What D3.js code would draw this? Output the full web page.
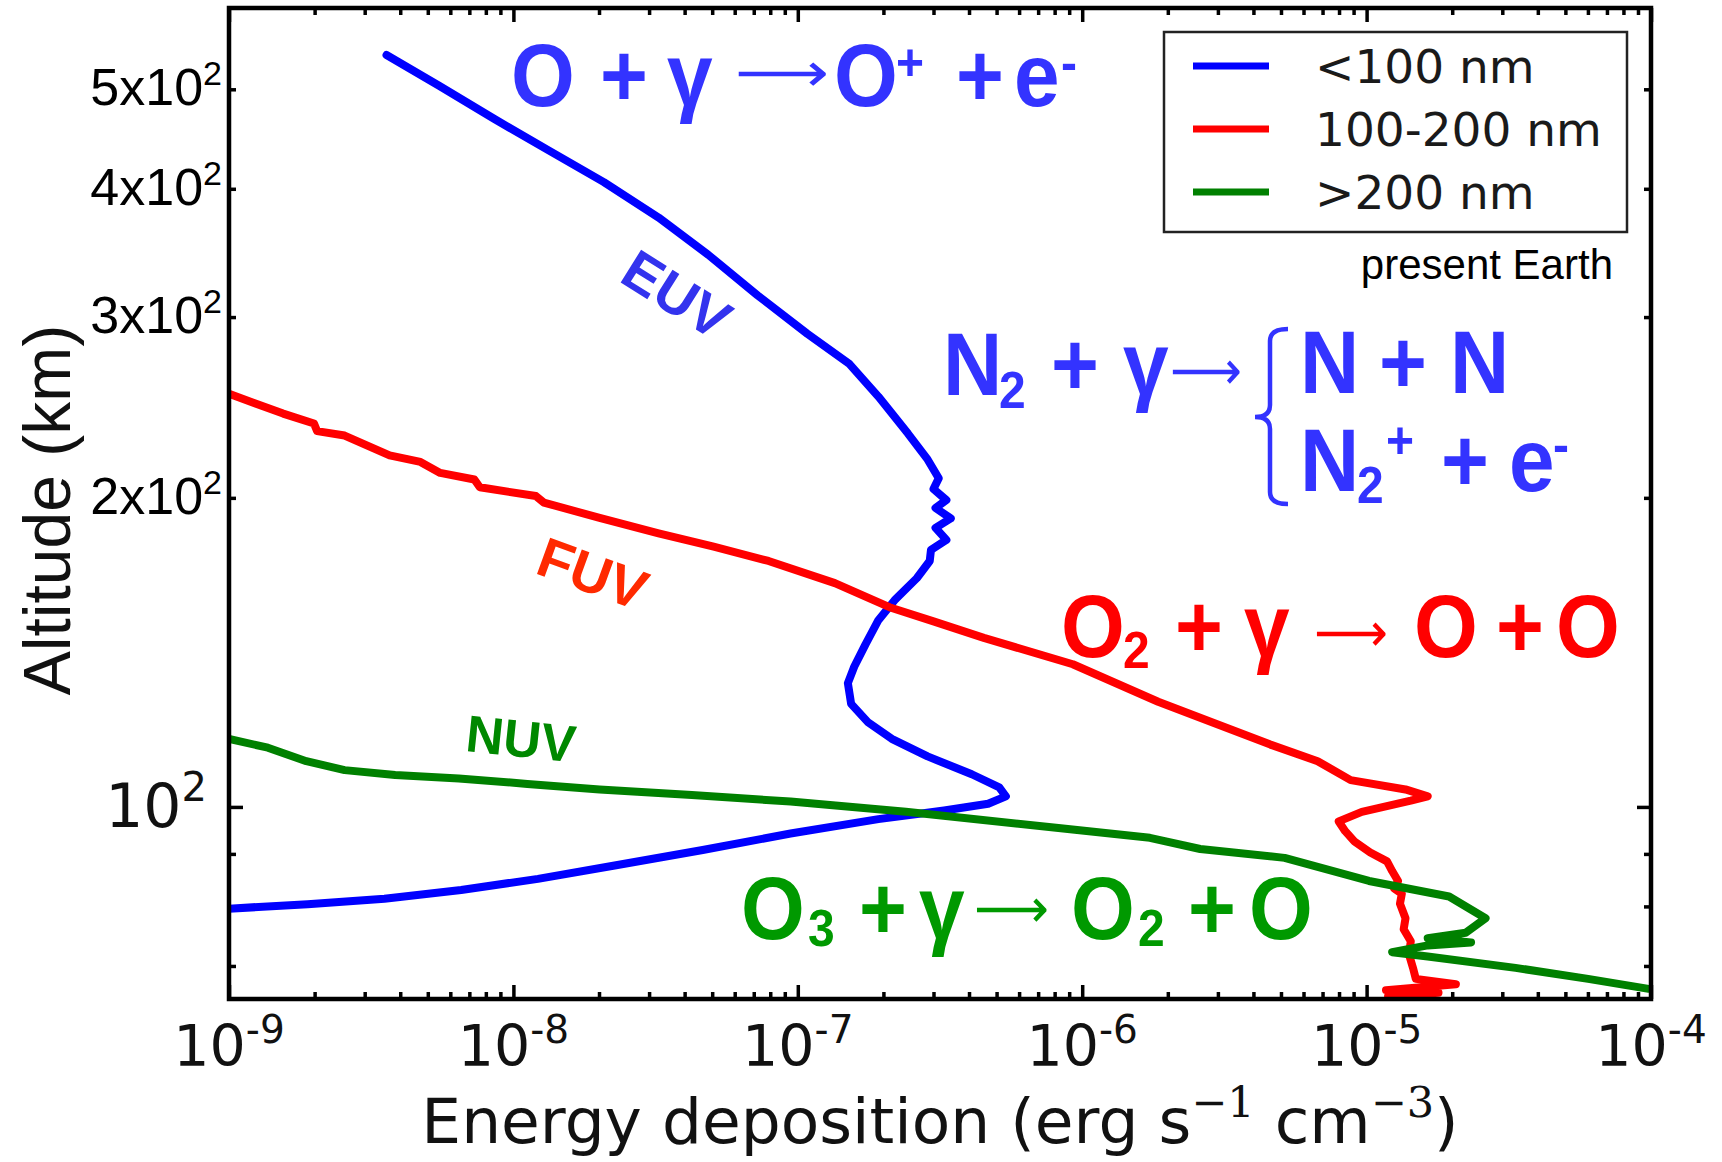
<!DOCTYPE html>
<html>
<head>
<meta charset="utf-8">
<script src="https://cdn.jsdelivr.net/npm/d3@7"></script>
<style>
  html, body { margin: 0; padding: 0; background: #fff; }
  svg { display: block; }
</style>
</head>
<body>
<svg id="chart"></svg>
<script>
// energy deposition (erg s-1 cm-3) against altitude (km), present Earth

// <100 nm (EUV)
const euvEnergy = [3.58e-9, 5.48e-9, 8.55e-9, 1.33e-8, 2.08e-8, 3.24e-8, 4.84e-8, 7.22e-8, 1.08e-7, 1.52e-7,
  1.92e-7, 2.44e-7, 2.86e-7, 3.13e-7, 3.00e-7, 3.33e-7, 3.05e-7, 3.45e-7, 3.05e-7, 3.33e-7,
  2.94e-7, 2.91e-7, 2.62e-7, 2.19e-7, 1.92e-7, 1.73e-7, 1.58e-7, 1.50e-7, 1.54e-7, 1.76e-7,
  2.14e-7, 2.86e-7, 4.09e-7, 5.11e-7, 5.39e-7, 4.67e-7, 3.27e-7, 1.92e-7, 9.43e-8, 4.63e-8,
  2.27e-8, 1.22e-8, 6.55e-9, 3.52e-9, 1.89e-9, 1.0e-9]
const euvAltitude = [540, 504, 468, 436, 406, 375, 345, 315, 289, 270,
  251, 231, 218, 209, 204, 199, 195.5, 191, 187, 182,
  178, 173.6, 167, 159, 152, 144, 137, 132, 126, 121,
  116.5, 112, 107.6, 104.5, 102.4, 100.7, 99.2, 97.3, 94.2, 90.8,
  87.7, 85.1, 83.0, 81.4, 80.4, 79.6]

// 100-200 nm (FUV)
const fuvEnergy = [1.0e-9, 1.55e-9, 1.99e-9, 2.04e-9, 2.55e-9, 3.67e-9, 4.71e-9, 5.53e-9, 7.29e-9, 7.62e-9,
  1.20e-8, 1.28e-8, 2.01e-8, 3.24e-8, 5.06e-8, 7.89e-8, 1.35e-7, 2.10e-7, 3.00e-7, 4.51e-7,
  9.27e-7, 1.85e-6, 2.89e-6, 4.59e-6, 6.73e-6, 8.79e-6, 1.37e-5, 1.64e-5, 1.43e-5, 9.62e-6,
  7.98e-6, 8.41e-6, 9.04e-6, 1.03e-5, 1.18e-5, 1.23e-5, 1.29e-5, 1.25e-5, 1.33e-5, 1.31e-5,
  1.37e-5, 1.35e-5, 1.43e-5, 1.41e-5, 1.46e-5, 1.49e-5, 2.06e-5, 1.17e-5, 1.79e-5, 1.19e-5, 1.64e-5]
const fuvAltitude = [252.6, 241.6, 236.3, 232.3, 230.0, 220.0, 216.8, 211.5, 208.4, 204.8,
  200.8, 197.9, 191.2, 184.7, 179.3, 173.6, 165.2, 156.5, 151.6, 146.1,
  137.7, 126.6, 120.8, 115.0, 110.8, 106.2, 104.0, 102.4, 101.4, 98.9,
  96.8, 94.7, 92.6, 90.3, 88.5, 86.6, 84.7, 83.3, 82.3, 80.5,
  77.9, 76.0, 74.0, 71.8, 69.5, 68.0, 67.2, 66.3, 65.9, 65.4, 65.1]

// >200 nm (NUV)
const nuvEnergy = [1.0e-9, 1.37e-9, 1.87e-9, 2.55e-9, 3.84e-9, 6.43e-9, 1.12e-8, 2.01e-8, 4.24e-8, 9.43e-8,
  2.40e-7, 8.25e-7, 1.73e-6, 2.60e-6, 5.15e-6, 1.02e-5, 1.95e-5, 2.62e-5, 2.23e-5, 1.64e-5,
  2.33e-5, 1.64e-5, 1.23e-5, 1.64e-5, 3.34e-5, 6.01e-5, 9.81e-5]
const nuvAltitude = [116.5, 114.2, 110.8, 108.6, 107.4, 106.6, 105.3, 104.0, 102.7, 101.2,
  98.9, 95.4, 93.3, 91.0, 89.2, 84.7, 81.8, 77.9, 75.4, 74.5,
  73.8, 73.3, 72.2, 71.5, 69.7, 68.0, 66.5]

const seriesNames = ["<100 nm", "100-200 nm", ">200 nm"]
const seriesColors = ["#0000ff", "#ff0000", "#008000"]

const xExponents = [-9, -8, -7, -6, -5, -4]
const yMajorTicks = [100]
const yLabelTicks = [200, 300, 400, 500]
const yLabelMantissa = ["2", "3", "4", "5"]
const yMinorTicks = [70, 80, 90, 200, 300, 400, 500]

const width = 1722
const height = 1162
const margin = {top: 8, right: 71, bottom: 163, left: 229}

const svg = d3.select("#chart").attr("width", width).attr("height", height)

const x = d3.scaleLog()
  .domain([1e-9, 1e-4])
  .range([margin.left, width - margin.right])

const y = d3.scaleLog()
  .domain([65, 600])
  .range([height - margin.bottom, margin.top])

const plotW = width - margin.left - margin.right
const plotH = height - margin.top - margin.bottom

svg.append("clipPath").attr("id", "plotclip")
  .append("rect")
  .attr("x", margin.left).attr("y", margin.top)
  .attr("width", plotW).attr("height", plotH)

// ticks, all pointing inward
const xMajor = xExponents.map(e => Math.pow(10, e))
const xMinor = []
xExponents.slice(0, -1).forEach(e => {
  for (let k = 2; k <= 9; k++) xMinor.push(k * Math.pow(10, e))
})

function ticks(axisFn, scale, values, size, tr) {
  svg.append("g")
    .attr("transform", tr)
    .call(axisFn(scale).tickValues(values).tickSize(size).tickSizeOuter(0).tickFormat(""))
    .call(g => g.select(".domain").remove())
    .call(g => g.selectAll("line").attr("stroke", "#000").attr("stroke-width", 3.5))
}

const bottomT = `translate(0,${height - margin.bottom})`
const topT = `translate(0,${margin.top})`
const leftT = `translate(${margin.left},0)`
const rightT = `translate(${width - margin.right},0)`

ticks(d3.axisBottom, x, xMajor, -14, bottomT)
ticks(d3.axisBottom, x, xMinor, -7, bottomT)
ticks(d3.axisTop, x, xMajor, -14, topT)
ticks(d3.axisTop, x, xMinor, -7, topT)
ticks(d3.axisLeft, y, yMajorTicks, -14, leftT)
ticks(d3.axisLeft, y, yMinorTicks, -7, leftT)
ticks(d3.axisRight, y, yMajorTicks, -14, rightT)
ticks(d3.axisRight, y, yMinorTicks, -7, rightT)

// curves
const line = d3.line()
  .x(d => x(d[0]))
  .y(d => y(d[1]))

const curves = [
  d3.zip(euvEnergy, euvAltitude),
  d3.zip(fuvEnergy, fuvAltitude),
  d3.zip(nuvEnergy, nuvAltitude)
]

svg.append("g")
  .attr("clip-path", "url(#plotclip)")
  .selectAll("path")
  .data(curves)
  .join("path")
    .attr("d", line)
    .attr("fill", "none")
    .attr("stroke", (d, i) => seriesColors[i])
    .attr("stroke-width", 8)
    .attr("stroke-linejoin", "round")
    .attr("stroke-linecap", "round")

// frame
svg.append("rect")
  .attr("x", margin.left).attr("y", margin.top)
  .attr("width", plotW).attr("height", plotH)
  .attr("fill", "none")
  .attr("stroke", "#000")
  .attr("stroke-width", 4.5)

// x tick labels 10^-n
const xLab = svg.append("g")
  .attr("font-family", "DejaVu Sans")
  .attr("fill", "#111")
xExponents.forEach(e => {
  const t = xLab.append("text")
    .attr("x", x(Math.pow(10, e)))
    .attr("y", 1066)
    .attr("text-anchor", "middle")
    .attr("font-size", 57)
  t.append("tspan").text("10")
  t.append("tspan").attr("font-size", 39).attr("dy", -23).text("-" + (-e))
})

// y tick labels
const y100 = svg.append("text")
  .attr("x", 207)
  .attr("y", y(100) + 20)
  .attr("text-anchor", "end")
  .attr("font-family", "DejaVu Sans")
  .attr("font-size", 60)
  .attr("fill", "#111")
y100.append("tspan").text("10")
y100.append("tspan").attr("font-size", 40).attr("dy", -26).text("2")

yLabelTicks.forEach((v, i) => {
  const t = svg.append("text")
    .attr("x", 222)
    .attr("y", y(v) + 16)
    .attr("text-anchor", "end")
    .attr("font-family", "Liberation Sans, Arial, sans-serif")
    .attr("font-size", 52)
    .attr("fill", "#000")
  t.append("tspan").text(yLabelMantissa[i] + "x10")
  t.append("tspan").attr("font-size", 34).attr("dy", -20).text("2")
})

// axis titles
svg.append("text")
  .attr("transform", "translate(70,510) rotate(-90)")
  .attr("text-anchor", "middle")
  .attr("font-family", "Liberation Sans, Arial, sans-serif")
  .attr("font-size", 66)
  .attr("fill", "#111")
  .text("Altitude (km)")

const xTitle = svg.append("text")
  .attr("x", 940)
  .attr("y", 1143)
  .attr("text-anchor", "middle")
  .attr("font-family", "DejaVu Sans")
  .attr("font-size", 63)
  .attr("fill", "#111")
xTitle.append("tspan").text("Energy deposition (erg s")
xTitle.append("tspan").attr("font-family", "DejaVu Serif").attr("font-size", 43).attr("dy", -26).text("\u22121")
xTitle.append("tspan").attr("dy", 26).text(" cm")
xTitle.append("tspan").attr("font-family", "DejaVu Serif").attr("font-size", 43).attr("dy", -26).text("\u22123")
xTitle.append("tspan").attr("dy", 26).text(")")

// legend
const legend = svg.append("g")
legend.append("rect")
  .attr("x", 1164).attr("y", 32)
  .attr("width", 463).attr("height", 200)
  .attr("fill", "#fff")
  .attr("stroke", "#222")
  .attr("stroke-width", 2.5)
seriesNames.forEach((name, i) => {
  const ly = 66 + i * 63
  legend.append("line")
    .attr("x1", 1193).attr("x2", 1269)
    .attr("y1", ly).attr("y2", ly)
    .attr("stroke", seriesColors[i])
    .attr("stroke-width", 7)
  legend.append("text")
    .attr("x", 1315).attr("y", ly + 17)
    .attr("font-family", "DejaVu Sans")
    .attr("font-size", 47)
    .attr("fill", "#1a1a1a")
    .text(name)
})

svg.append("text")
  .attr("x", 1613).attr("y", 279)
  .attr("text-anchor", "end")
  .attr("font-family", "Liberation Sans, Arial, sans-serif")
  .attr("font-size", 42)
  .attr("fill", "#000")
  .text("present Earth")

// reaction annotations: [text, x, y, size, kind]  kind b = bold, a = arrow (length in 6th slot)
function equation(pieces, color) {
  const g = svg.append("g").attr("fill", color)
  pieces.forEach(p => {
    const t = g.append("text")
      .attr("font-size", p[3])
      .text(p[0])
    if (p[4] === "a") {
      t.attr("x", p[1]).attr("y", p[2])
        .attr("font-family", "DejaVu Sans")
        .attr("textLength", p[5])
        .attr("lengthAdjust", "spacingAndGlyphs")
    } else {
      // the reference lettering is a little taller than Arial Bold
      t.attr("transform", `translate(${p[1]},${p[2]}) scale(1,1.09)`)
        .attr("font-family", "Liberation Sans, Arial, sans-serif")
        .attr("font-weight", "bold")
    }
  })
}

const blueText = "#3333ff"
const arrow = "\u27f6"

equation([
  ["O", 511, 106, 82, "b"],
  ["+", 600, 106, 82, "b"],
  ["\u03b3", 667, 106, 82, "b"],
  [arrow, 735, 91, 54, "a", 94],
  ["O", 834, 106, 82, "b"],
  ["+", 896, 80, 48, "b"],
  ["+", 956, 106, 82, "b"],
  ["e", 1014, 106, 82, "b"],
  ["-", 1061, 80, 48, "b"]
], blueText)

equation([
  ["N", 943, 395, 82, "b"],
  ["2", 999, 408, 48, "b"],
  ["+", 1051, 395, 82, "b"],
  ["\u03b3", 1123, 395, 82, "b"],
  [arrow, 1170, 389, 54, "a", 72],
  ["N", 1300, 393, 82, "b"],
  ["+", 1379, 393, 82, "b"],
  ["N", 1450, 393, 82, "b"],
  ["N", 1300, 491, 82, "b"],
  ["2", 1357, 503, 48, "b"],
  ["+", 1386, 458, 48, "b"],
  ["+", 1441, 491, 82, "b"],
  ["e", 1509, 491, 82, "b"],
  ["-", 1553, 462, 48, "b"]
], blueText)

// brace in front of the two products
svg.append("path")
  .attr("d", "M1288,329 Q1270,329 1270,341 L1270,405 Q1270,417 1255,417 Q1270,417 1270,429 L1270,492 Q1270,504 1288,504")
  .attr("fill", "none")
  .attr("stroke", blueText)
  .attr("stroke-width", 4.5)

equation([
  ["O", 1061, 657, 82, "b"],
  ["2", 1123, 668, 48, "b"],
  ["+", 1175, 657, 82, "b"],
  ["\u03b3", 1244, 657, 82, "b"],
  [arrow, 1314, 651, 54, "a", 74],
  ["O", 1414, 657, 82, "b"],
  ["+", 1496, 657, 82, "b"],
  ["O", 1556, 657, 82, "b"]
], "#ff0000")

equation([
  ["O", 741, 939, 82, "b"],
  ["3", 808, 946, 48, "b"],
  ["+", 859, 939, 82, "b"],
  ["\u03b3", 919, 939, 82, "b"],
  [arrow, 974, 927, 54, "a", 75],
  ["O", 1071, 939, 82, "b"],
  ["2", 1138, 946, 48, "b"],
  ["+", 1188, 939, 82, "b"],
  ["O", 1249, 939, 82, "b"]
], "#009900")

// band labels next to the curves
const bandLabels = [
  {text: "EUV", cx: 677, cy: 294, rot: 32, size: 56, color: "#3333ee"},
  {text: "FUV", cx: 593, cy: 573, rot: 20, size: 56, color: "#ff2a00"},
  {text: "NUV", cx: 521, cy: 738, rot: 6, size: 52, color: "#008800"}
]
svg.append("g")
  .selectAll("text")
  .data(bandLabels)
  .join("text")
    .attr("transform", d => `translate(${d.cx},${d.cy}) rotate(${d.rot})`)
    .attr("text-anchor", "middle")
    .attr("dy", "0.36em")
    .attr("font-family", "Liberation Sans, Arial, sans-serif")
    .attr("font-weight", "bold")
    .attr("font-size", d => d.size)
    .attr("fill", d => d.color)
    .text(d => d.text)
</script>
</body>
</html>
